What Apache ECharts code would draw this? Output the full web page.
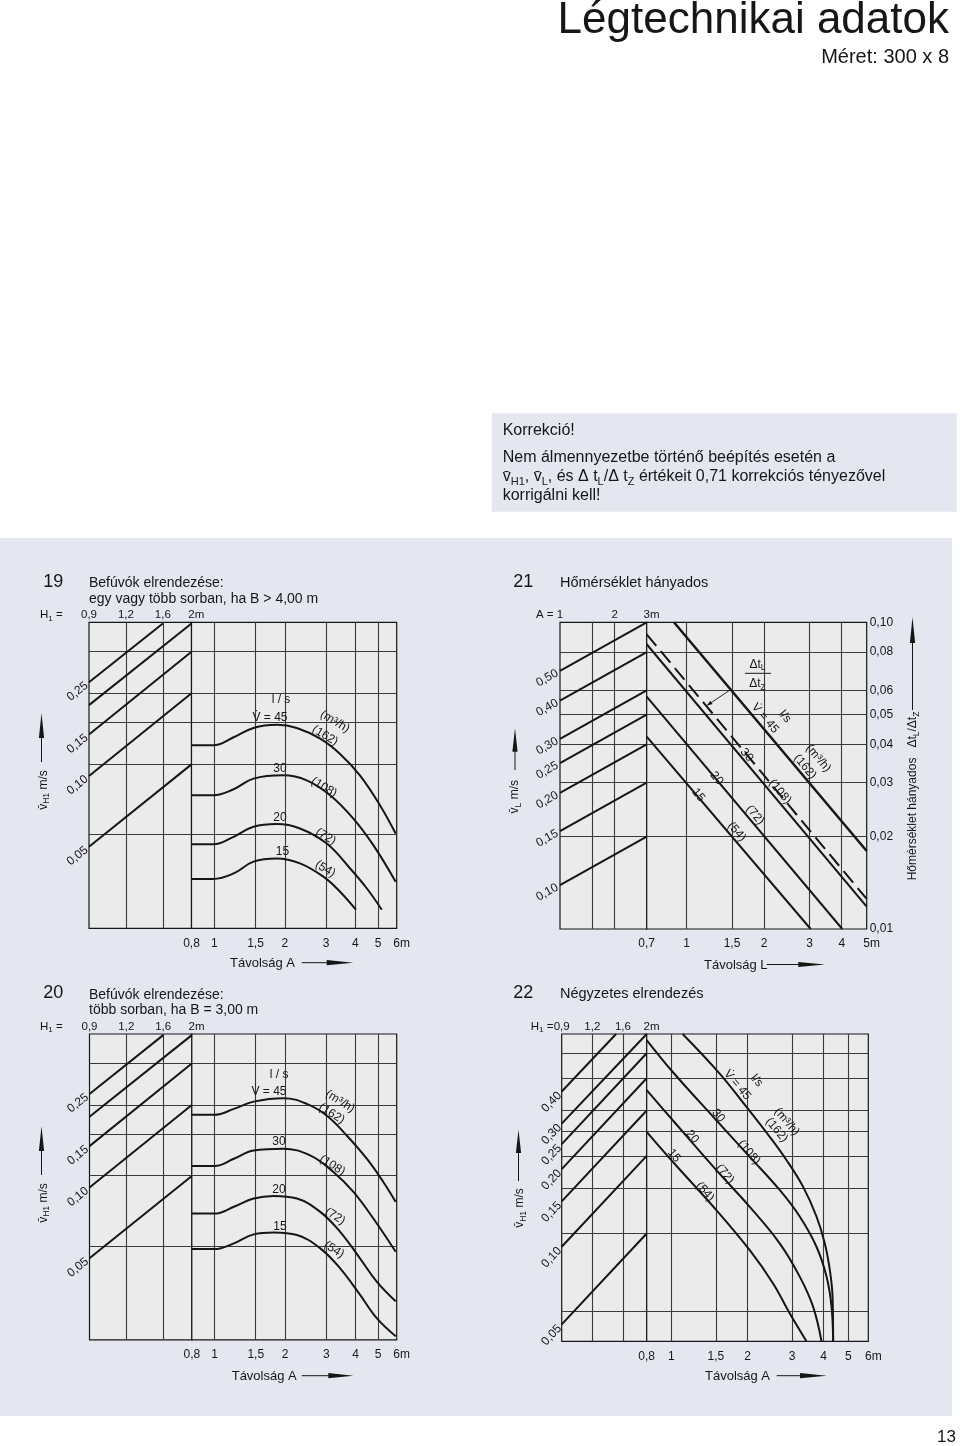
<!DOCTYPE html>
<html><head><meta charset="utf-8">
<script src="https://cdn.jsdelivr.net/npm/echarts@6/dist/echarts.min.js"></script>
<style>html,body{margin:0;padding:0;background:#fff;}#c{width:960px;height:1446px;}</style>
</head><body><div id="c"></div>
<script>
// ================= DATA =================
// ---- Panel 19 ----
const p19_H1Ticks = [0.9, 1.2, 1.6, 2];
const p19_H1Labels = ['0,9', '1,2', '1,6', '2m'];
const p19_ATicks = [0.8, 1, 1.5, 2, 3, 4, 5, 6];
const p19_ALabels = ['0,8', '1', '1,5', '2', '3', '4', '5', '6m'];
const p19_vStart = [0.25, 0.20, 0.15, 0.10, 0.05];
const p19_vLabels = ['0,25', '', '0,15', '0,10', '0,05'];
const p19_lineEnds = [[1.6, 0.445], [2, 0.445], [2, 0.337], [2, 0.2246], [2, 0.112]];
const p19_gridV = [0.3375, 0.225, 0.16875, 0.1125, 0.05625];
const p19_c45 = [[0.8,0.135],[0.99,0.135],[1.21,0.146],[1.47,0.160],[1.85,0.165],[2.25,0.160],[2.83,0.144],[3.44,0.124],[4.18,0.1006],[5.09,0.0751],[5.94,0.0569]];
const p19_c30 = [[0.8,0.0828],[0.99,0.0828],[1.21,0.0878],[1.47,0.0974],[1.97,0.1006],[2.48,0.0958],[3.12,0.0828],[3.92,0.0659],[4.77,0.0508],[5.94,0.0355]];
const p19_c20 = [[0.8,0.0512],[0.99,0.0512],[1.21,0.0551],[1.47,0.0608],[1.85,0.0624],[2.32,0.0598],[3.02,0.0516],[3.79,0.0405],[4.47,0.0333],[5.18,0.027]];
const p19_c15 = [[0.8,0.0365],[0.99,0.0365],[1.21,0.0385],[1.47,0.0432],[1.85,0.0446],[2.32,0.0425],[2.92,0.0373],[3.44,0.0322],[4.02,0.027]];

// ---- Panel 20 ----
const p20_H1Ticks = [0.9, 1.2, 1.6, 2];
const p20_H1Labels = ['0,9', '1,2', '1,6', '2m'];
const p20_ATicks = [0.8, 1, 1.5, 2, 3, 4, 5, 6];
const p20_ALabels = ['0,8', '1', '1,5', '2', '3', '4', '5', '6m'];
const p20_vStart = [0.25, 0.20, 0.15, 0.10, 0.05];
const p20_vLabels = ['0,25', '', '0,15', '0,10', '0,05'];
const p20_lineEnds = [[1.6, 0.445], [2, 0.445], [2, 0.337], [2, 0.2246], [2, 0.112]];
const p20_gridV = [0.3375, 0.225, 0.16875, 0.1125, 0.05625];
const p20_c45 = [[0.8,0.204],[1.0,0.204],[1.21,0.216],[1.47,0.232],[1.97,0.240],[2.48,0.227],[3.02,0.202],[3.67,0.1665],[4.47,0.1326],[5.26,0.1056],[5.94,0.0869]];
const p20_c30 = [[0.8,0.1235],[1.0,0.1235],[1.21,0.1326],[1.47,0.1438],[1.97,0.1462],[2.56,0.137],[3.22,0.1165],[3.92,0.0958],[4.77,0.0738],[5.94,0.0533]];
const p20_c20 = [[0.8,0.0775],[1.0,0.0775],[1.21,0.0828],[1.47,0.0898],[1.79,0.0921],[2.25,0.0898],[2.83,0.0788],[3.44,0.0648],[4.18,0.05],[4.93,0.0398],[5.94,0.0328]];
const p20_c15 = [[0.8,0.0547],[1.0,0.0547],[1.21,0.0579],[1.47,0.0632],[1.79,0.0644],[2.25,0.0628],[2.83,0.0551],[3.44,0.0453],[4.18,0.035],[4.93,0.0278],[5.94,0.0233]];

// ---- Panel 21 ----
const p21_ATicks = [1, 2, 3];
const p21_ALabels = ['1', '2', '3m'];
const p21_AGrid = [1.5, 2];
const p21_LTicks = [0.7, 1, 1.5, 2, 3, 4, 5];
const p21_LLabels = ['0,7', '1', '1,5', '2', '3', '4', '5m'];
const p21_ratioTicks = [0.10, 0.08, 0.06, 0.05, 0.04, 0.03, 0.02, 0.01];
const p21_ratioLabels = ['0,10', '0,08', '0,06', '0,05', '0,04', '0,03', '0,02', '0,01'];
const p21_ratioGrid = [0.08, 0.06, 0.05, 0.04, 0.03, 0.02];
const p21_vGrid = [0.576, 0.432, 0.36, 0.288, 0.216, 0.144];
const p21_vStart = [0.50, 0.40, 0.30, 0.25, 0.20, 0.15, 0.10];
const p21_vLabels = ['0,50', '0,40', '0,30', '0,25', '0,20', '0,15', '0,10'];
const p21_vEnd = [0.72, 0.576, 0.432, 0.36, 0.288, 0.216, 0.144];
const p21_c45 = [[0.893, 0.1], [5, 0.01796]];
const p21_c30 = [[0.7, 0.0848], [5, 0.01183]];
const p21_c30dash = [[0.7, 0.0914], [5, 0.01253]];
const p21_c20 = [[0.7, 0.0572], [4.02, 0.01]];
const p21_c15 = [[0.7, 0.0424], [3.03, 0.01]];

// ---- Panel 22 ----
const p22_H1Ticks = [0.9, 1.2, 1.6, 2];
const p22_H1Labels = ['0,9', '1,2', '1,6', '2m'];
const p22_ATicks = [0.8, 1, 1.5, 2, 3, 4, 5, 6];
const p22_ALabels = ['0,8', '1', '1,5', '2', '3', '4', '5', '6m'];
const p22_vStart = [0.40, 0.30, 0.25, 0.20, 0.15, 0.10, 0.05];
const p22_vLabels = ['0,40', '0,30', '0,25', '0,20', '0,15', '0,10', '0,05'];
const p22_lineEnds = [[1.5,0.668],[2,0.668],[2,0.5625],[2,0.45],[2,0.3375],[2,0.225],[2,0.1125]];
const p22_gridV = [0.5625, 0.45, 0.3375, 0.28125, 0.225, 0.16875, 0.1125, 0.05625];
const p22_c45 = [[1.109,0.668],[1.55,0.470],[1.978,0.349],[2.446,0.267],[2.849,0.217],[3.314,0.171],[3.746,0.131],[4.041,0.103],[4.229,0.0813],[4.335,0.064],[4.358,0.043]];
const p22_c30 = [[0.8,0.633],[1.012,0.477],[1.504,0.310],[2.038,0.2235],[2.68,0.166],[3.216,0.131],[3.746,0.100],[4.104,0.0766],[4.295,0.0586],[4.358,0.043]];
const p22_c20 = [[0.8,0.405],[1.012,0.310],[1.504,0.1985],[2.038,0.143],[2.68,0.1031],[3.216,0.0766],[3.631,0.0586],[3.921,0.043]];
const p22_c15 = [[0.8,0.279],[1.012,0.214],[1.504,0.139],[2.038,0.0972],[2.521,0.0722],[2.936,0.0552],[3.419,0.043]];

// grid-line positions shared by panels 19/20/22 (x)
const leftH1Grid = [1.2, 1.6];
const rightAGrid = [1, 1.5, 2, 3, 4, 5];
const p21_LGrid = [1, 1.5, 2, 3, 4];

// ================= STYLE / LAYOUT =================
const FONT = '"Liberation Sans", Arial, Helvetica, sans-serif';
const INK = '#161616';
const GRIDC = '#3a3a3a';
const BG = '#e4e7f0';
const PLOT = '#ebebeb';
const LAY = {
  p19: {top: 622.3, bottom: 928.3, x0: 89, xm: 191.5, x1: 396.7},
  p20: {top: 1034, bottom: 1339.8, x0: 89.5, xm: 191.8, x1: 396.7},
  p21: {top: 622.3, bottom: 929, x0: 560, xm: 646.7, x1: 866.7},
  p22: {top: 1034, bottom: 1341.3, x0: 561.7, xm: 646.7, x1: 868.3}
};

const grids = [], xAxes = [], yAxes = [], series = [];
function axis(gi, min, max) {
  return {type: 'log', logBase: 10, gridIndex: gi, min: min, max: max, show: false,
    axisLine: {show: false}, axisTick: {show: false}, axisLabel: {show: false}, splitLine: {show: false}};
}
function addGrid(x0, x1, top, bottom, xMin, xMax, yMin, yMax) {
  const gi = grids.length;
  grids.push({left: x0, top: top, width: x1 - x0, height: bottom - top, show: true,
    backgroundColor: PLOT, borderColor: INK, borderWidth: 1.2, containLabel: false});
  xAxes.push(axis(gi, xMin, xMax));
  yAxes.push(axis(gi, yMin, yMax));
  return gi;
}
function gridLines(gi, xs, ys) {
  series.push({type: 'line', xAxisIndex: gi, yAxisIndex: gi, data: [], silent: true, z: 1,
    markLine: {silent: true, symbol: ['none', 'none'], precision: 8, animation: false, z: 1,
      label: {show: false}, emphasis: {disabled: true},
      lineStyle: {color: GRIDC, width: 1.1, type: 'solid'},
      data: xs.map(v => ({xAxis: v})).concat(ys.map(v => ({yAxis: v})))}});
}
function curve(gi, data, extra) {
  series.push(Object.assign({type: 'line', xAxisIndex: gi, yAxisIndex: gi, data: data,
    showSymbol: false, symbol: 'none', silent: true, z: 10, clip: true,
    smooth: 0.4,
    lineStyle: {color: INK, width: 2}}, extra || {}));
}
function straight(gi, data, extra) {
  curve(gi, data, Object.assign({smooth: false}, extra || {}));
}

// ---- Panel 19 ----
const g19L = addGrid(LAY.p19.x0, LAY.p19.xm, LAY.p19.top, LAY.p19.bottom, 0.9, 2, 0.0225, 0.45);
const g19R = addGrid(LAY.p19.xm, LAY.p19.x1, LAY.p19.top, LAY.p19.bottom, 0.8, 6, 0.0225, 0.45);
gridLines(g19L, leftH1Grid, p19_gridV);
gridLines(g19R, rightAGrid, p19_gridV);
p19_vStart.forEach((v, i) => straight(g19L, [[0.9, v], p19_lineEnds[i]]));
[p19_c45, p19_c30, p19_c20, p19_c15].forEach(c => curve(g19R, c));

// ---- Panel 20 ----
const g20L = addGrid(LAY.p20.x0, LAY.p20.xm, LAY.p20.top, LAY.p20.bottom, 0.9, 2, 0.0225, 0.45);
const g20R = addGrid(LAY.p20.xm, LAY.p20.x1, LAY.p20.top, LAY.p20.bottom, 0.8, 6, 0.0225, 0.45);
gridLines(g20L, leftH1Grid, p20_gridV);
gridLines(g20R, rightAGrid, p20_gridV);
p20_vStart.forEach((v, i) => straight(g20L, [[0.9, v], p20_lineEnds[i]]));
[p20_c45, p20_c30, p20_c20, p20_c15].forEach(c => curve(g20R, c));

// ---- Panel 21 ----
const g21L = addGrid(LAY.p21.x0, LAY.p21.xm, LAY.p21.top, LAY.p21.bottom, 1, 3, 0.072, 0.72);
const g21R = addGrid(LAY.p21.xm, LAY.p21.x1, LAY.p21.top, LAY.p21.bottom, 0.7, 5, 0.01, 0.1);
gridLines(g21L, p21_AGrid, p21_vGrid);
gridLines(g21R, p21_LGrid, p21_ratioGrid);
p21_vStart.forEach((v, i) => straight(g21L, [[1, v], [3, p21_vEnd[i]]]));
straight(g21R, p21_c45, {lineStyle: {color: INK, width: 2.5}});
straight(g21R, p21_c30);
straight(g21R, p21_c30dash, {lineStyle: {color: INK, width: 2, type: [15, 7]}});
straight(g21R, p21_c20);
straight(g21R, p21_c15);

// ---- Panel 22 ----
const g22L = addGrid(LAY.p22.x0, LAY.p22.xm, LAY.p22.top, LAY.p22.bottom, 0.9, 2, 0.043, 0.668);
const g22R = addGrid(LAY.p22.xm, LAY.p22.x1, LAY.p22.top, LAY.p22.bottom, 0.8, 6, 0.043, 0.668);
gridLines(g22L, leftH1Grid, p22_gridV);
gridLines(g22R, rightAGrid, p22_gridV);
p22_vStart.forEach((v, i) => straight(g22L, [[0.9, v], p22_lineEnds[i]]));
[p22_c45, p22_c30, p22_c20, p22_c15].forEach(c => curve(g22R, c));

const chart = echarts.init(document.getElementById('c'), null, {renderer: 'canvas'});
chart.setOption({animation: false, backgroundColor: '#ffffff', grid: grids, xAxis: xAxes, yAxis: yAxes, series: series});

// ================= TEXT / ANNOTATIONS =================
const G = [];
function T(x, y, text, o) {
  o = o || {};
  const size = o.size || 12;
  const al = o.align || 'center', va = o.va || 'middle';
  const st = {text: text, fill: o.color || INK, font: (o.weight || 'normal') + ' ' + size + 'px ' + FONT,
    align: al, verticalAlign: va, textAlign: al, textVerticalAlign: va};
  if (o.rich) st.rich = o.rich;
  return {type: 'text', x: x, y: y, rotation: o.rot || 0, silent: true, z: 50, style: st};
}
function RS(size, sub) {
  return {
    n: {fontSize: size, fontFamily: FONT, fill: INK, lineHeight: size + 4, verticalAlign: 'middle'},
    s: {fontSize: sub, fontFamily: FONT, fill: INK, lineHeight: sub, verticalAlign: 'bottom'}
  };
}
function line(x1, y1, x2, y2, w) {
  return {type: 'line', silent: true, z: 50, shape: {x1: x1, y1: y1, x2: x2, y2: y2}, style: {stroke: INK, lineWidth: w || 1}};
}
function poly(pts) {
  return {type: 'polygon', silent: true, z: 50, shape: {points: pts}, style: {fill: INK}};
}
function arrowUp(x, yTip, yBase, yTail) {
  G.push(line(x, yBase - 2, x, yTail, 1));
  G.push(poly([[x - 2.6, yBase], [x, yTip], [x + 2.6, yBase]]));
}
function arrowRight(x0, xBase, xTip, y) {
  G.push(line(x0, y, xBase + 2, y, 1));
  G.push(poly([[xBase, y - 2.6], [xTip, y], [xBase, y + 2.6]]));
}
function xTickLabels(gi, ticks, labels, y, size) {
  ticks.forEach((v, i) => {
    const x = chart.convertToPixel({xAxisIndex: gi}, v);
    const lab = labels[i];
    if (/m$/.test(lab)) G.push(T(x - (lab.length - 1) * size * 0.278, y, lab, {align: 'left', size: size}));
    else G.push(T(x, y, lab, {size: size}));
  });
}
function edgeLabels(gi, x0, starts, ends, labels) {
  starts.forEach((v, i) => {
    if (!labels[i]) return;
    const p = chart.convertToPixel({gridIndex: gi}, [x0, v]);
    const q = chart.convertToPixel({gridIndex: gi}, ends[i]);
    const ang = Math.atan2(p[1] - q[1], q[0] - p[0]);
    const d = 3;
    G.push(T(p[0] - d * Math.cos(ang), p[1] + d * Math.sin(ang), labels[i], {align: 'right', rot: ang, size: 12}));
  });
}
function notes(list, defRot) {
  list.forEach(n => {
    const r = (n[3] !== undefined ? n[3] : defRot) * Math.PI / 180;
    G.push(T(n[0], n[1], n[2], {rot: r, size: 12}));
  });
}

// page background + header
G.push({type: 'rect', silent: true, z: -100, shape: {x: 0, y: 538, width: 952, height: 878}, style: {fill: BG}});
G.push({type: 'rect', silent: true, z: -100, shape: {x: 491.7, y: 413.3, width: 465, height: 98.4}, style: {fill: BG}});
G.push(T(949, 21, 'Légtechnikai adatok', {size: 44, align: 'right'}));
G.push(T(949, 57, 'Méret: 300 x 8', {size: 20, align: 'right'}));
G.push(T(502.7, 430.5, 'Korrekció!', {size: 16, align: 'left'}));
G.push(T(502.7, 457.7, 'Nem álmennyezetbe történő beépítés esetén a', {size: 16, align: 'left'}));
G.push(T(502.7, 477, '{n|v\u0304}{s|H1}{n|, v\u0304}{s|L}{n|, és Δ t}{s|L}{n|/Δ t}{s|Z}{n| értékeit 0,71 korrekciós tényezővel}',
  {size: 16, align: 'left', rich: RS(16, 11)}));
G.push(T(502.7, 496, 'korrigálni kell!', {size: 16, align: 'left'}));
G.push(T(956, 1437, '13', {size: 17, align: 'right'}));

// panel titles
G.push(T(43.3, 582, '19', {size: 18, align: 'left'}));
G.push(T(89, 583.4, 'Befúvók elrendezése:', {size: 14, align: 'left'}));
G.push(T(89, 599.4, 'egy vagy több sorban, ha B > 4,00 m', {size: 14, align: 'left'}));
G.push(T(43.3, 993, '20', {size: 18, align: 'left'}));
G.push(T(89, 994.8, 'Befúvók elrendezése:', {size: 14, align: 'left'}));
G.push(T(89, 1009.8, 'több sorban, ha B = 3,00 m', {size: 14, align: 'left'}));
G.push(T(513.3, 581.7, '21', {size: 18, align: 'left'}));
G.push(T(560, 582.8, 'Hőmérséklet hányados', {size: 14.5, align: 'left'}));
G.push(T(513.3, 993, '22', {size: 18, align: 'left'}));
G.push(T(560, 993.8, 'Négyzetes elrendezés', {size: 14.5, align: 'left'}));

// top scales
const TOPOFF = 7.5, BOTOFF = 15;
G.push(T(40, LAY.p19.top - TOPOFF, '{n|H}{s|1}{n| =}', {align: 'left', size: 11.5, rich: RS(11.5, 8)}));
xTickLabels(g19L, p19_H1Ticks, p19_H1Labels, LAY.p19.top - TOPOFF, 11.5);
G.push(T(40, LAY.p20.top - TOPOFF, '{n|H}{s|1}{n| =}', {align: 'left', size: 11.5, rich: RS(11.5, 8)}));
xTickLabels(g20L, p20_H1Ticks, p20_H1Labels, LAY.p20.top - TOPOFF, 11.5);
G.push(T(553.5, LAY.p21.top - TOPOFF, 'A =', {align: 'right', size: 11.5}));
xTickLabels(g21L, p21_ATicks, p21_ALabels, LAY.p21.top - TOPOFF, 11.5);
G.push(T(553.5, LAY.p22.top - TOPOFF, '{n|H}{s|1}{n| =}', {align: 'right', size: 11.5, rich: RS(11.5, 8)}));
xTickLabels(g22L, p22_H1Ticks, p22_H1Labels, LAY.p22.top - TOPOFF, 11.5);

// bottom scales
xTickLabels(g19R, p19_ATicks, p19_ALabels, LAY.p19.bottom + BOTOFF, 12);
xTickLabels(g20R, p20_ATicks, p20_ALabels, LAY.p20.bottom + BOTOFF, 12);
xTickLabels(g21R, p21_LTicks, p21_LLabels, LAY.p21.bottom + BOTOFF, 12);
xTickLabels(g22R, p22_ATicks, p22_ALabels, LAY.p22.bottom + BOTOFF, 12);

// right scale of panel 21
p21_ratioTicks.forEach((v, i) => {
  const y = chart.convertToPixel({yAxisIndex: g21R}, v);
  G.push(T(LAY.p21.x1 + 3, y, p21_ratioLabels[i], {align: 'left', size: 12}));
});

// edge value labels on the start of the left lines
edgeLabels(g19L, 0.9, p19_vStart, p19_lineEnds, p19_vLabels);
edgeLabels(g20L, 0.9, p20_vStart, p20_lineEnds, p20_vLabels);
edgeLabels(g21L, 1, p21_vStart, p21_vStart.map((v, i) => [3, p21_vEnd[i]]), p21_vLabels);
edgeLabels(g22L, 0.9, p22_vStart, p22_lineEnds, p22_vLabels);

// axis titles
const R90 = Math.PI / 2;
G.push(T(43.5, 790, '{n|v\u0304}{s|H1}{n| m/s}', {rot: R90, rich: RS(12, 8.5)}));
arrowUp(41.5, 713, 738, 762);
G.push(T(43.5, 1203, '{n|v\u0304}{s|H1}{n| m/s}', {rot: R90, rich: RS(12, 8.5)}));
arrowUp(41.5, 1126.3, 1151, 1175);
G.push(T(515, 796.7, '{n|v\u0304}{s|L}{n| m/s}', {rot: R90, rich: RS(12, 8.5)}));
arrowUp(515, 728.3, 751.7, 770);
G.push(T(520, 1208, '{n|v\u0304}{s|H1}{n| m/s}', {rot: R90, rich: RS(12, 8.5)}));
arrowUp(518.5, 1129.7, 1153, 1181);
G.push(T(913, 796, '{n|Hőmérséklet hányados   Δt}{s|L}{n|/Δt}{s|Z}', {rot: R90, rich: RS(12, 8.5)}));
arrowUp(912.5, 617, 643, 710);

G.push(T(230, 963.3, 'Távolság A', {align: 'left', size: 13}));
arrowRight(301.7, 326.7, 353.3, 962.7);
G.push(T(231.7, 1376.3, 'Távolság A', {align: 'left', size: 13}));
arrowRight(301.7, 328.3, 353.3, 1375.7);
G.push(T(704, 965, 'Távolság L', {align: 'left', size: 13}));
arrowRight(766.7, 798.3, 825, 964.5);
G.push(T(705, 1376.3, 'Távolság A', {align: 'left', size: 13}));
arrowRight(776.7, 800, 826.7, 1375.7);

// curve annotations [x, y, text, rotationDeg]
notes([[281, 700, 'l / s', 0], [270, 717.7, 'V\u0307 = 45', 0], [335, 721.7, '(m³/h)'], [325, 735.7, '(162)'],
  [280, 768.3, '30', 0], [324, 787.3, '(108)'], [280, 817.3, '20', 0], [325.7, 836.7, '(72)'],
  [282.5, 851.7, '15', 0], [325.3, 869, '(54)']], -31);
notes([[279.2, 1074.7, 'l / s', 0], [269, 1091.3, 'V\u0307 = 45', 0], [340, 1101.3, '(m³/h)'], [331.7, 1113.7, '(162)'],
  [279, 1141.3, '30', 0], [332.3, 1165.3, '(108)'], [279, 1189.7, '20', 0], [335, 1216.3, '(72)'],
  [280, 1226.3, '15', 0], [334, 1249.7, '(54)']], -32);
notes([[765, 718.3, 'V\u0307 = 45'], [785, 716.7, 'l/s'], [818.3, 758.3, '(m³/h)'], [805, 766.7, '(162)'],
  [746.7, 755, '30'], [780, 791.7, '(108)'], [716.7, 778.3, '20'], [755, 815, '(72)'],
  [698.3, 795, '15'], [736.7, 831.7, '(54)']], -50);
notes([[737.3, 1085, 'V\u0307 = 45'], [756.7, 1080.7, 'l/s'], [786.7, 1121.7, '(m³/h)'], [776.7, 1130, '(162)'],
  [718.3, 1115.7, '30'], [749, 1152.3, '(108)'], [692.3, 1136.7, '20'], [725, 1174, '(72)'],
  [674, 1155.7, '15'], [705, 1191.7, '(54)']], -50);

// Δt_L / Δt_Z marker in panel 21
G.push(T(757.5, 664.5, '{n|Δt}{s|L}', {rich: RS(12, 8.5)}));
G.push(line(745, 673.3, 771, 673.3, 1));
G.push(T(757.5, 684, '{n|Δt}{s|Z}', {rich: RS(12, 8.5)}));
(function () {
  const x1 = 730, y1 = 690, x2 = 706.5, y2 = 705.8;
  const dx = x2 - x1, dy = y2 - y1, len = Math.hypot(dx, dy), ux = dx / len, uy = dy / len;
  G.push(line(x1, y1, x2 - ux * 4, y2 - uy * 4, 0.9));
  const bx = x2 - ux * 6, by = y2 - uy * 6;
  G.push(poly([[x2, y2], [bx - uy * 2, by + ux * 2], [bx + uy * 2, by - ux * 2]]));
})();

chart.setOption({graphic: {elements: G}});
</script>
</body></html>
